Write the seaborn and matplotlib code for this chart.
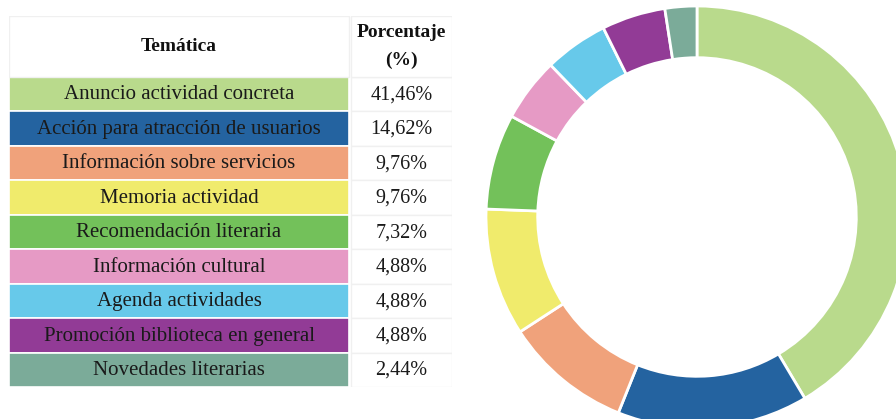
import matplotlib
matplotlib.use("Agg")
import matplotlib.pyplot as plt
import seaborn as sns
from matplotlib.patches import Rectangle

# datos
tematicas = [
    "Anuncio actividad concreta",
    "Acción para atracción de usuarios",
    "Información sobre servicios",
    "Memoria actividad",
    "Recomendación literaria",
    "Información cultural",
    "Agenda actividades",
    "Promoción biblioteca en general",
    "Novedades literarias",
]
porcentajes = [41.46, 14.62, 9.76, 9.76, 7.32, 4.88, 4.88, 4.88, 2.44]
colores = ["#b9da8c", "#2463a0", "#f0a27b", "#f0eb6c", "#73c15a",
           "#e69ac5", "#67c9ea", "#923b96", "#7bab99"]

sns.set_theme(style="white")
plt.rcParams["font.family"] = ["Liberation Serif", "DejaVu Serif"]

fig = plt.figure(figsize=(8.96, 4.19), dpi=100)

# tabla (unidades x en pixeles, y en filas)
ax = fig.add_axes([9 / 896, 32 / 419, 443 / 896, 371 / 419])
col1 = 340
col2_left, col2_w = 342, 101
header_h = 61 / 34.45
top = -0.5 - header_h

sns.barplot(x=[col1] * len(tematicas), y=tematicas, hue=tematicas,
            palette=colores, saturation=1, width=1.0, orient="h",
            legend=False, edgecolor="white", linewidth=1.2, ax=ax)

borde = "#f0f0f0"
for i, (t, p) in enumerate(zip(tematicas, porcentajes)):
    ax.text(col1 / 2, i + 0.02, t, ha="center", va="center", fontsize=15,
            color="#1a1a1a")
    ax.add_patch(Rectangle((col2_left, i - 0.5), col2_w, 1, facecolor="white",
                           edgecolor=borde, linewidth=1))
    ax.text(col2_left + col2_w / 2, i + 0.02, f"{p:.2f}%".replace(".", ","),
            ha="center", va="center", fontsize=14.5, color="#1a1a1a")

# cabecera
ax.add_patch(Rectangle((0, top), col1, header_h, facecolor="white",
                       edgecolor=borde, linewidth=1))
ax.add_patch(Rectangle((col2_left, top), col2_w, header_h, facecolor="white",
                       edgecolor=borde, linewidth=1))
ax.text(col1 / 2, top + header_h / 2, "Temática", ha="center", va="center",
        fontsize=14, fontweight="bold", color="#111111")
ax.text(col2_left + col2_w / 2, top + header_h * 0.27, "Porcentaje",
        ha="center", va="center", fontsize=14, fontweight="bold",
        color="#111111")
ax.text(col2_left + col2_w / 2, top + header_h * 0.73, "(%)",
        ha="center", va="center", fontsize=14, fontweight="bold",
        color="#111111")

ax.set_xlim(0, 443)
ax.set_ylim(8.5, top)
ax.set_axis_off()

# anillo
ax2 = fig.add_axes([486 / 896, -9 / 419, 422 / 896, 422 / 419])
ax2.pie(porcentajes, colors=colores, startangle=90, counterclock=False,
        radius=1, wedgeprops=dict(width=0.245, edgecolor="white", linewidth=2))
ax2.set_xlim(-1, 1)
ax2.set_ylim(-1, 1)
ax2.set_aspect("equal")
ax2.set_axis_off()

fig.savefig("out.png", dpi=100)
